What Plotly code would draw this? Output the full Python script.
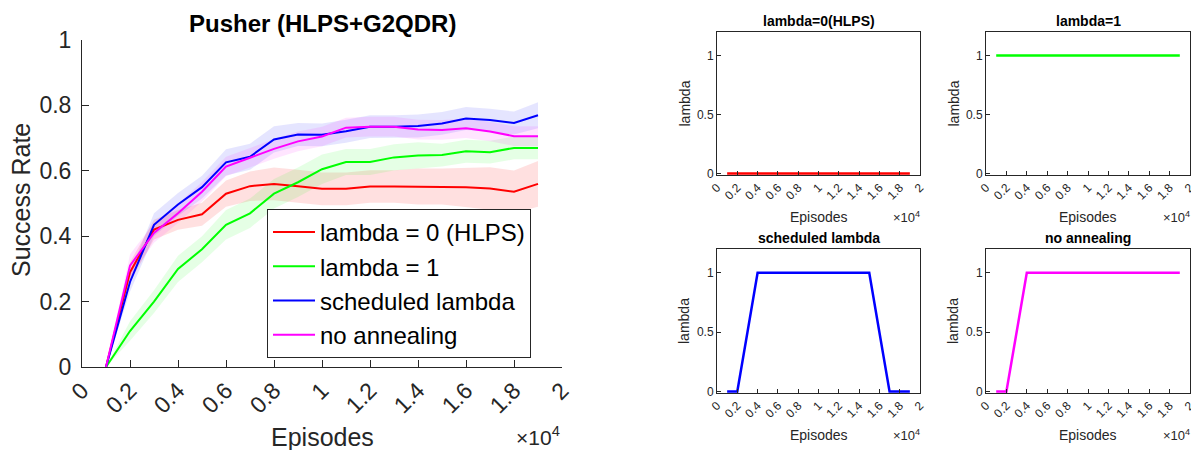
import plotly.graph_objects as go

# ---- data ----
episodes = [1000, 2000, 3000, 4000, 5000, 6000, 7000, 8000, 9000, 10000,
            11000, 12000, 13000, 14000, 15000, 16000, 17000, 18000, 19000]

sr_lambda0 = [0.0, 0.29, 0.42, 0.45, 0.467, 0.53, 0.553, 0.56, 0.553, 0.545,
              0.545, 0.552, 0.552, 0.552, 0.552, 0.55, 0.546, 0.536, 0.56]
sr_lambda1 = [0.0, 0.11, 0.20, 0.30, 0.36, 0.435, 0.47, 0.53, 0.565, 0.605,
              0.627, 0.627, 0.641, 0.647, 0.648, 0.66, 0.657, 0.67, 0.67]
sr_sched = [0.0, 0.26, 0.435, 0.497, 0.55, 0.626, 0.643, 0.696, 0.711, 0.71,
            0.721, 0.735, 0.735, 0.737, 0.745, 0.76, 0.755, 0.746, 0.77]
sr_noanneal = [0.0, 0.31, 0.41, 0.47, 0.536, 0.613, 0.64, 0.667, 0.69, 0.705,
               0.732, 0.735, 0.735, 0.726, 0.725, 0.73, 0.72, 0.706, 0.706]

sd_lambda0 = [0.0, 0.03, 0.03, 0.03, 0.035, 0.04, 0.045, 0.05, 0.05, 0.05,
              0.05, 0.05, 0.05, 0.055, 0.055, 0.06, 0.065, 0.065, 0.07]
sd_lambda1 = [0.0, 0.03, 0.035, 0.04, 0.04, 0.045, 0.045, 0.045, 0.045, 0.045,
              0.04, 0.04, 0.04, 0.04, 0.035, 0.035, 0.035, 0.035, 0.035]
sd_sched = [0.0, 0.03, 0.035, 0.035, 0.035, 0.04, 0.04, 0.04, 0.035, 0.035,
            0.035, 0.035, 0.035, 0.035, 0.035, 0.035, 0.035, 0.035, 0.04]
sd_noanneal = [0.0, 0.035, 0.03, 0.03, 0.03, 0.03, 0.03, 0.03, 0.03, 0.03,
               0.03, 0.03, 0.03, 0.03, 0.03, 0.03, 0.03, 0.03, 0.03]

lam_lambda0 = [0] * 19
lam_lambda1 = [1] * 19
lam_sched = [0, 0, 0.5, 1, 1, 1, 1, 1, 1, 1, 1, 1, 1, 1, 1, 0.5, 0, 0, 0]
lam_noanneal = [0, 0, 0.5, 1, 1, 1, 1, 1, 1, 1, 1, 1, 1, 1, 1, 1, 1, 1, 1]

series_names = ["lambda = 0 (HLPS)", "lambda = 1", "scheduled lambda", "no annealing"]
panel_titles = ["lambda=0(HLPS)", "lambda=1", "scheduled lambda", "no annealing"]
colors = ["#FF0000", "#00FF00", "#0000FF", "#FF00FF"]
band_colors = ["rgba(255,0,0,0.12)", "rgba(0,255,0,0.10)",
               "rgba(0,0,255,0.10)", "rgba(255,0,255,0.10)"]

main_title = "Pusher (HLPS+G2QDR)"
xtick_vals = [0, 2000, 4000, 6000, 8000, 10000, 12000, 14000, 16000, 18000, 20000]
xtick_text = ["0", "0.2", "0.4", "0.6", "0.8", "1", "1.2", "1.4", "1.6", "1.8", "2"]
ytick_vals = [0, 0.2, 0.4, 0.6, 0.8, 1]
ytick_text = ["0", "0.2", "0.4", "0.6", "0.8", "1"]
small_ytick_vals = [0, 0.5, 1]
small_ytick_text = ["0", "0.5", "1"]

sr_all = [sr_lambda0, sr_lambda1, sr_sched, sr_noanneal]
sd_all = [sd_lambda0, sd_lambda1, sd_sched, sd_noanneal]
lam_all = [lam_lambda0, lam_lambda1, lam_sched, lam_noanneal]

# ---- figure ----
OFF = 8  # page body margin
W, H = 1199 - OFF, 450 - OFF
FONT = "Liberation Sans, Arial, Helvetica, sans-serif"
TXT = "#262626"


def px_x(p):
    return (p - OFF) / W


def px_y(p):
    return 1 - (p - OFF) / H


fig = go.Figure()

# bands
for sr, sd, bc in zip(sr_all, sd_all, band_colors):
    upper = [m + s for m, s in zip(sr, sd)]
    lower = [m - s for m, s in zip(sr, sd)]
    fig.add_trace(go.Scatter(
        x=episodes + episodes[::-1], y=upper + lower[::-1],
        fill="toself", fillcolor=bc, line=dict(width=0),
        mode="lines", hoverinfo="skip", showlegend=False,
        xaxis="x", yaxis="y"))

# mean lines
for sr, name, c in zip(sr_all, series_names, colors):
    fig.add_trace(go.Scatter(
        x=episodes, y=sr, mode="lines", name=name,
        line=dict(color=c, width=2), xaxis="x", yaxis="y"))

# small panels
panels = [
    (717, 920, 32, 175),
    (986, 1190, 32, 175),
    (717, 920, 249, 393),
    (986, 1190, 249, 393),
]
for i, (lam, c) in enumerate(zip(lam_all, colors)):
    k = i + 2
    fig.add_trace(go.Scatter(
        x=episodes, y=lam, mode="lines", showlegend=False,
        line=dict(color=c, width=2.5),
        xaxis=f"x{k}", yaxis=f"y{k}"))

layout = dict(
    width=W, height=H,
    margin=dict(l=0, r=0, t=0, b=0, autoexpand=False),
    paper_bgcolor="white", plot_bgcolor="white",
    font=dict(family=FONT, color=TXT),
    showlegend=True,
    legend=dict(
        x=px_x(267), y=px_y(209), xanchor="left", yanchor="top",
        bgcolor="white", bordercolor=TXT, borderwidth=1,
        font=dict(size=24, color="#000000", family=FONT),
        itemwidth=42, tracegroupgap=0),
    xaxis=dict(
        domain=[px_x(82), px_x(562)], range=[0, 20000],
        tickvals=xtick_vals, ticktext=xtick_text, tickangle=-45,
        ticks="inside", ticklen=7, tickcolor=TXT, tickwidth=1,
        showline=True, linecolor=TXT, linewidth=1, mirror=False,
        showgrid=False, zeroline=False, automargin=False,
        tickfont=dict(size=23, color=TXT), anchor="y"),
    yaxis=dict(
        domain=[px_y(367), px_y(40)], range=[0, 1],
        tickvals=ytick_vals, ticktext=ytick_text,
        ticks="inside", ticklen=7, tickcolor=TXT, tickwidth=1,
        showline=True, linecolor=TXT, linewidth=1, mirror=False,
        showgrid=False, zeroline=False, automargin=False,
        ticklabelstandoff=5,
        tickfont=dict(size=23, color=TXT), anchor="x"),
)


def ann(text, x, y, size, color=TXT, angle=0, xanchor="center", yanchor="middle"):
    return dict(text=text, x=px_x(x), y=px_y(y), xref="paper", yref="paper",
                xanchor=xanchor, yanchor=yanchor, showarrow=False,
                textangle=angle, font=dict(size=size, color=color))


annotations = [
    ann(f"<b>{main_title}</b>", 322, OFF, 24, "#000000", yanchor="top"),
    ann("Success Rate", 21, 200, 25, angle=-90),
    ann("Episodes", 322, 437, 25),
    ann("×10<sup>4</sup>", 562, 436, 21, xanchor="right"),
]

for i, (x0, x1, y0, y1) in enumerate(panels):
    k = i + 2
    layout[f"xaxis{k}"] = dict(
        domain=[px_x(x0), px_x(x1)], range=[0, 20000],
        tickvals=xtick_vals, ticktext=xtick_text, tickangle=-45,
        ticks="inside", ticklen=4, tickcolor=TXT, tickwidth=1,
        showline=True, linecolor=TXT, linewidth=1, mirror=True,
        showgrid=False, zeroline=False, automargin=False,
        tickfont=dict(size=12, color=TXT), anchor=f"y{k}")
    layout[f"yaxis{k}"] = dict(
        domain=[px_y(y1), px_y(y0)], range=[-0.012, 1.2],
        tickvals=small_ytick_vals, ticktext=small_ytick_text,
        ticks="inside", ticklen=4, tickcolor=TXT, tickwidth=1,
        showline=True, linecolor=TXT, linewidth=1, mirror=True,
        showgrid=False, zeroline=False, automargin=False,
        tickfont=dict(size=12, color=TXT), anchor=f"x{k}")
    cx = (x0 + x1) / 2
    annotations += [
        ann(f"<b>{panel_titles[i]}</b>", cx, y0 - 11, 14, "#000000"),
        ann("lambda", x0 - 33, (y0 + y1) / 2, 14, angle=-90),
        ann("Episodes", cx, y1 + 42, 14),
        ann("×10<sup>4</sup>", x1 + 2, y1 + 42, 13, xanchor="right"),
    ]

layout["annotations"] = annotations
fig.update_layout(**layout)
fig.write_html("out.html")
